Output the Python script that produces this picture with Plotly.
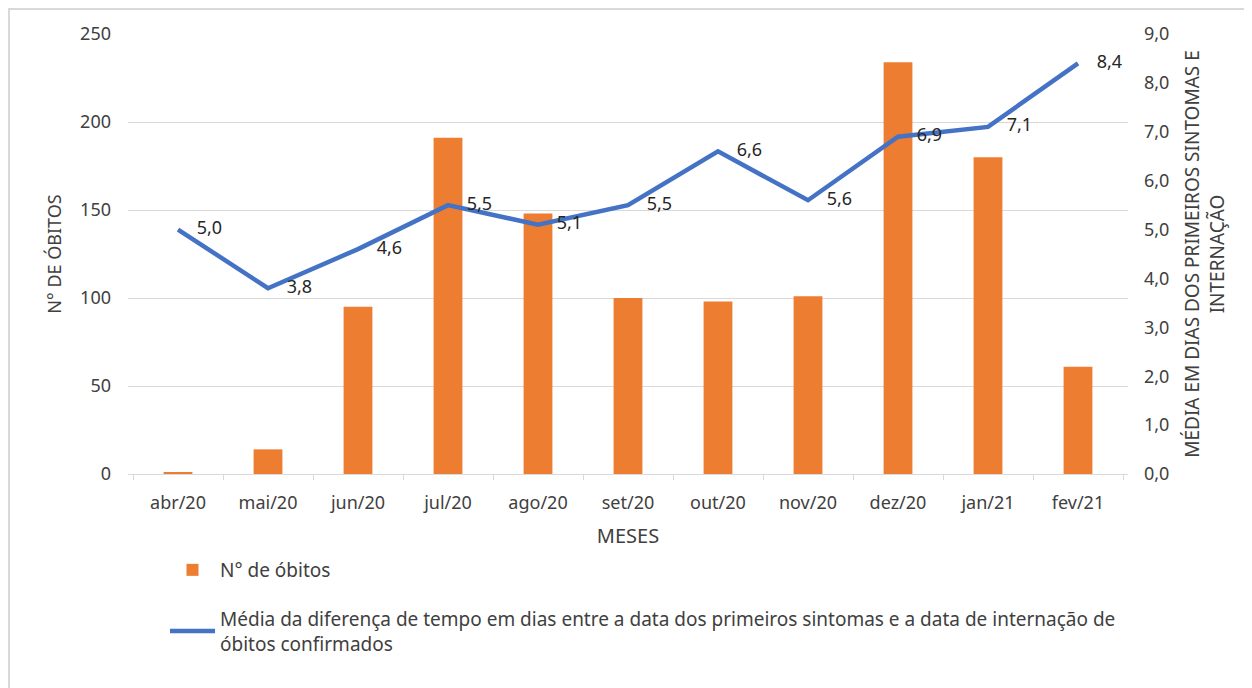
import plotly.graph_objects as go

meses = ["abr/20", "mai/20", "jun/20", "jul/20", "ago/20", "set/20",
         "out/20", "nov/20", "dez/20", "jan/21", "fev/21"]
obitos = [1, 14, 95, 191, 148, 100, 98, 101, 234, 180, 61]
media_dias = [5.0, 3.8, 4.6, 5.5, 5.1, 5.5, 6.6, 5.6, 6.9, 7.1, 8.4]

FONT = "Noto Sans"
TXT = "#404040"
PAD = "\u00a0" * 4

fig = go.Figure()
fig.add_trace(go.Bar(
    x=meses, y=obitos, name="N° de óbitos",
    marker=dict(color="#ED7D31", line=dict(width=0)),
    legendgroup="a",
))
fig.add_trace(go.Scatter(
    x=meses, y=media_dias, yaxis="y2", mode="lines+text",
    name="Média da diferença de tempo em dias entre a data dos primeiros sintomas e a data de internação de<br>óbitos confirmados",
    line=dict(color="#4472C4", width=4.5),
    text=[PAD + f"{v:.1f}".replace(".", ",") for v in media_dias],
    textposition="middle right",
    textfont=dict(size=18, color="#262626", family=FONT),
    legendgroup="b",
))

# page body adds 8px, so the figure is 16px smaller and margins shifted by 8
fig.update_layout(
    width=1244, height=680,
    margin=dict(l=120, r=124, t=26, b=214, autoexpand=False),
    paper_bgcolor="white", plot_bgcolor="white",
    font=dict(family=FONT, size=18, color=TXT),
    bargap=0.68,
    showlegend=True,
    legend=dict(x=0.037, y=-0.175, xanchor="left", yanchor="top",
                itemwidth=45, tracegroupgap=21,
                font=dict(size=19, color=TXT)),
    xaxis=dict(
        automargin=False,
        showgrid=False, showline=True, linecolor="#d9d9d9", linewidth=1,
        ticks="outside", tickson="boundaries", ticklen=5, tickcolor="#d9d9d9",
        ticklabelstandoff=12,
        title=dict(text="MESES", font=dict(size=20, color=TXT), standoff=16),
    ),
    yaxis=dict(
        automargin=False,
        range=[0, 250], dtick=50, showgrid=True, gridcolor="#d9d9d9",
        zeroline=False, showline=False, ticks="", ticklabelstandoff=16,
        title=dict(text="N° DE ÓBITOS", font=dict(size=18, color=TXT), standoff=13),
    ),
    yaxis2=dict(
        automargin=False,
        range=[0, 9], dtick=1, overlaying="y", side="right",
        showgrid=False, zeroline=False, showline=False, ticklabelstandoff=15,
        tickformat=".1f",
        title=dict(text="MÉDIA EM DIAS DOS PRIMEIROS SINTOMAS E<br>INTERNAÇÃO",
                   font=dict(size=19, color=TXT), standoff=17),
    ),
    separators=",.",
    shapes=[dict(type="rect", xref="paper", yref="paper",
                 x0=-0.119, x1=1.2, y0=-0.6, y1=1.0568,
                 line=dict(color="#d9d9d9", width=2), fillcolor="rgba(0,0,0,0)",
                 layer="below")],
)

fig.write_html("out.html")
